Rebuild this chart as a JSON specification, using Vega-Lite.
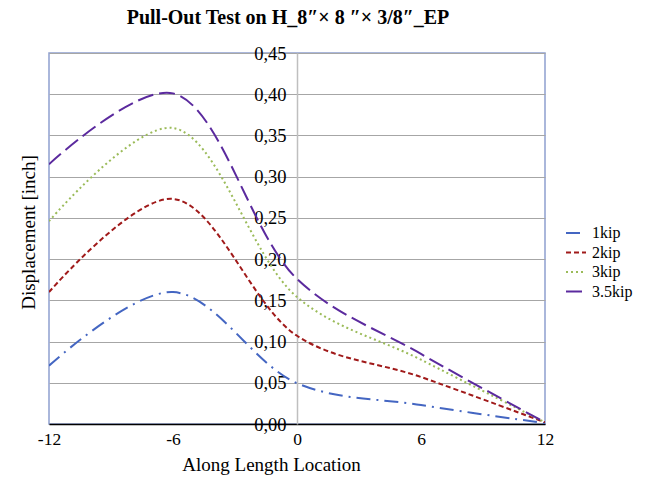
{
  "$schema": "https://vega.github.io/schema/vega-lite/v6.json",
  "width": 496,
  "height": 371,
  "autosize": {"type": "none"},
  "padding": {"left": 49, "top": 53, "right": 104, "bottom": 55},
  "background": "white",
  "config": {
    "font": "Liberation Serif",
    "view": {"stroke": "#8EA0D0", "strokeWidth": 1.5},
    "legend": {"labelFont": "Liberation Serif", "labelFontSize": 16, "labelColor": "black"}
  },
  "title": {
    "text": "Pull-Out Test on H_8″× 8 ″× 3/8″_EP",
    "font": "Liberation Serif",
    "fontSize": 20,
    "fontWeight": "bold",
    "color": "black",
    "anchor": "middle",
    "dx": -9,
    "offset": 16
  },
  "data": {
    "values": [
      {"x": -12, "d": 0.0707, "load": "1kip"},
      {"x": -6, "d": 0.160, "load": "1kip"},
      {"x": 0, "d": 0.0495, "load": "1kip"},
      {"x": 6, "d": 0.023, "load": "1kip"},
      {"x": 12, "d": 0.001, "load": "1kip"},
      {"x": -12, "d": 0.160, "load": "2kip"},
      {"x": -6, "d": 0.273, "load": "2kip"},
      {"x": 0, "d": 0.107, "load": "2kip"},
      {"x": 6, "d": 0.057, "load": "2kip"},
      {"x": 12, "d": 0.002, "load": "2kip"},
      {"x": -12, "d": 0.246, "load": "3kip"},
      {"x": -6, "d": 0.359, "load": "3kip"},
      {"x": 0, "d": 0.154, "load": "3kip"},
      {"x": 6, "d": 0.078, "load": "3kip"},
      {"x": 12, "d": 0.002, "load": "3kip"},
      {"x": -12, "d": 0.315, "load": "3.5kip"},
      {"x": -6, "d": 0.401, "load": "3.5kip"},
      {"x": 0, "d": 0.176, "load": "3.5kip"},
      {"x": 6, "d": 0.085, "load": "3.5kip"},
      {"x": 12, "d": 0.002, "load": "3.5kip"}
    ]
  },
  "mark": {"type": "line", "interpolate": "catmull-rom", "strokeWidth": 2, "clip": true},
  "encoding": {
    "x": {
      "field": "x",
      "type": "quantitative",
      "scale": {"domain": [-12, 12], "nice": false, "zero": false},
      "axis": {
        "values": [-12, -6, 0, 6, 12],
        "labelExpr": "'' + datum.value",
        "labelFlush": false,
        "grid": false,
        "domainColor": "black",
        "domainWidth": 1.5,
        "ticks": false,
        "labelPadding": 6,
        "labelFont": "Liberation Serif",
        "labelFontSize": 17.5,
        "labelColor": "black",
        "title": "Along Length Location",
        "titleFont": "Liberation Serif",
        "titleFontSize": 19,
        "titleFontWeight": "normal",
        "titleColor": "black",
        "titleX": 222,
        "titlePadding": 8
      }
    },
    "y": {
      "field": "d",
      "type": "quantitative",
      "scale": {"domain": [0, 0.45], "nice": false},
      "axis": {
        "values": [0, 0.05, 0.1, 0.15, 0.2, 0.25, 0.3, 0.35, 0.4, 0.45],
        "offset": -248,
        "grid": true,
        "gridColor": "#A6A6A6",
        "gridWidth": 1.2,
        "domainColor": "#BFBFBF",
        "domainWidth": 1.5,
        "ticks": false,
        "labelPadding": 11,
        "labelExpr": "replace(format(datum.value, '.2f'), '.', ',')",
        "labelFont": "Liberation Serif",
        "labelFontSize": 18.5,
        "labelColor": "black",
        "labelBaseline": "middle",
        "title": "Displacement [inch]",
        "titleFont": "Liberation Serif",
        "titleFontSize": 19,
        "titleFontWeight": "normal",
        "titleColor": "black",
        "titleX": -269,
        "titleY": 179,
        "titleAngle": -90,
        "titleAlign": "center",
        "titleBaseline": "middle"
      }
    },
    "color": {
      "field": "load",
      "type": "nominal",
      "sort": ["1kip", "2kip", "3kip", "3.5kip"],
      "scale": {"domain": ["1kip", "2kip", "3kip", "3.5kip"], "range": ["#4466C2", "#A01A1A", "#9BBB59", "#5B2A9E"]},
      "legend": {
        "title": null,
        "orient": "none",
        "legendX": 516,
        "legendY": 169,
        "symbolType": "stroke",
        "symbolSize": 400,
        "symbolStrokeWidth": 2,
        "labelFont": "Liberation Serif",
        "labelFontSize": 16,
        "labelColor": "black",
        "rowPadding": 0.5,
        "labelOffset": 5
      }
    },
    "strokeDash": {
      "field": "load",
      "type": "nominal",
      "sort": ["1kip", "2kip", "3kip", "3.5kip"],
      "scale": {"domain": ["1kip", "2kip", "3kip", "3.5kip"], "range": [[14, 6, 2, 6], [5, 3], [2, 3], [16, 6]]},
      "legend": {
        "title": null,
        "orient": "none",
        "legendX": 516,
        "legendY": 169,
        "symbolType": "stroke",
        "symbolSize": 400,
        "symbolStrokeWidth": 2,
        "labelFont": "Liberation Serif",
        "labelFontSize": 16,
        "labelColor": "black",
        "rowPadding": 0.5,
        "labelOffset": 5
      }
    }
  }
}
